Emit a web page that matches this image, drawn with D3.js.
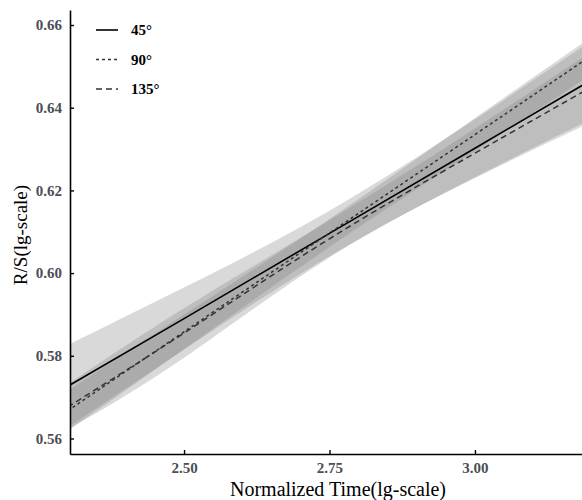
<!DOCTYPE html>
<html>
<head>
<meta charset="utf-8">
<script src="https://d3js.org/d3.v7.min.js"></script>
<style>
  body { margin: 0; background: #fff; }
  svg { display: block; }
</style>
</head>
<body>
<div class="chart_container"></div>
<script>
// values
var times = [2.30, 2.50, 2.75, 3.00, 3.20];
var angles = ["45°", "90°", "135°"];
var fit45 = [0.5726, 0.5890, 0.6096, 0.6302, 0.6467];
var lo45 = [0.5626, 0.5815, 0.6041, 0.6232, 0.6372];
var hi45 = [0.5826, 0.5965, 0.6151, 0.6372, 0.6562];
var fit90 = [0.5667, 0.5858, 0.6097, 0.6335, 0.6526];
var lo90 = [0.5619, 0.5816, 0.6063, 0.6295, 0.6481];
var hi90 = [0.5715, 0.5900, 0.6131, 0.6375, 0.6571];
var fit135 = [0.5676, 0.5855, 0.6083, 0.6290, 0.6450];
var lo135 = [0.5621, 0.5795, 0.6038, 0.6230, 0.6365];
var hi135 = [0.5731, 0.5915, 0.6128, 0.6350, 0.6535];
var xTicks = [2.50, 2.75, 3.00];
var yTicks = [0.56, 0.58, 0.60, 0.62, 0.64, 0.66];

var w = 582
var h = 500
var p_left = 70, p_right = 582, p_top = 10, p_bottom = 454;
var serif = '"Liberation Serif", "Times New Roman", serif';

var svg = d3.select('.chart_container')
            .append('svg')
            .attr('width', w)
            .attr('height', h);

var x_scale = d3.scaleLinear()
                .domain([2.304, 3.184])
                .range([p_left, p_right]);
var y_scale = d3.scaleLinear()
                .domain([0.55625, 0.66363])
                .range([p_bottom, p_top]);

//build one table per angle
var series = [
    {name: angles[0], fit: fit45, lo: lo45, hi: hi45, dash: null, color: "#000", width: 1.6},
    {name: angles[1], fit: fit90, lo: lo90, hi: hi90, dash: "3,3", color: "#333", width: 1.5},
    {name: angles[2], fit: fit135, lo: lo135, hi: hi135, dash: "6,4", color: "#333", width: 1.5}
];
series.forEach(function(s){
    s.rows = times.map((t, i) => ({t: t, fit: s.fit[i], lo: s.lo[i], hi: s.hi[i]}));
});

svg.append('clipPath').attr('id', 'plot_clip')
    .append('rect')
    .attr('x', p_left).attr('y', p_top)
    .attr('width', p_right - p_left).attr('height', p_bottom - p_top);

var plot = svg.append('g').attr('clip-path', 'url(#plot_clip)');

//confidence bands
var band = d3.area()
            .curve(d3.curveNatural)
            .x(d => x_scale(d.t))
            .y0(d => y_scale(d.lo))
            .y1(d => y_scale(d.hi));
plot.selectAll('.band')
    .data(series)
    .enter()
    .append('path')
    .attr('class', 'band')
    .attr('d', d => band(d.rows))
    .style('fill', '#808080')
    .style('fill-opacity', 0.3);

//fitted lines
var line = d3.line()
            .curve(d3.curveNatural)
            .x(d => x_scale(d.t))
            .y(d => y_scale(d.fit));
plot.selectAll('.fit')
    .data(series)
    .enter()
    .append('path')
    .attr('class', 'fit')
    .attr('d', d => line(d.rows))
    .style('fill', 'none')
    .style('stroke', d => d.color)
    .style('stroke-width', d => d.width)
    .style('stroke-dasharray', d => d.dash);

//axes
var x_axis = d3.axisBottom(x_scale)
                .tickValues(xTicks)
                .tickFormat(d3.format('.2f'))
                .tickSizeInner(-4)
                .tickSizeOuter(0)
                .tickPadding(8);
var gx = svg.append('g')
    .attr('transform', 'translate(0,' + p_bottom + ')')
    .call(x_axis);

var y_axis = d3.axisLeft(y_scale)
                .tickValues(yTicks)
                .tickFormat(d3.format('.2f'))
                .tickSizeInner(-4)
                .tickSizeOuter(0)
                .tickPadding(8);
var gy = svg.append('g')
    .attr('transform', 'translate(' + p_left + ',0)')
    .call(y_axis);

[gx, gy].forEach(function(g){
    g.select('.domain').attr('stroke', '#000').attr('stroke-width', 1.6);
    g.selectAll('.tick line').attr('stroke', '#000').attr('stroke-width', 1.4);
    g.selectAll('.tick text')
        .style('font-family', serif)
        .style('font-size', '15px')
        .style('font-weight', 'bold')
        .style('fill', '#4d4d55');
});

//axis titles
svg.append('text')
    .attr('x', 338)
    .attr('y', 496)
    .style('font-family', serif)
    .style('font-size', '20px')
    .style('text-anchor', 'middle')
    .text('Normalized Time(lg-scale)');
svg.append('text')
    .attr('transform', 'translate(27,235) rotate(-90)')
    .style('font-family', serif)
    .style('font-size', '19px')
    .style('text-anchor', 'middle')
    .text('R/S(lg-scale)');

//legend
var legend = svg.selectAll('.legend_item')
    .data(series)
    .enter()
    .append('g')
    .attr('class', 'legend_item')
    .attr('transform', (d, i) => 'translate(96,' + (30 + i * 29.5) + ')');
legend.append('line')
    .attr('x1', 0).attr('x2', 22)
    .attr('y1', 0).attr('y2', 0)
    .style('stroke', d => d.color)
    .style('stroke-width', 1.6)
    .style('stroke-dasharray', d => d.dash);
legend.append('text')
    .attr('x', 35)
    .attr('y', 5)
    .style('font-family', serif)
    .style('font-size', '15px')
    .style('font-weight', 'bold')
    .text(d => d.name);
</script>
</body>
</html>
